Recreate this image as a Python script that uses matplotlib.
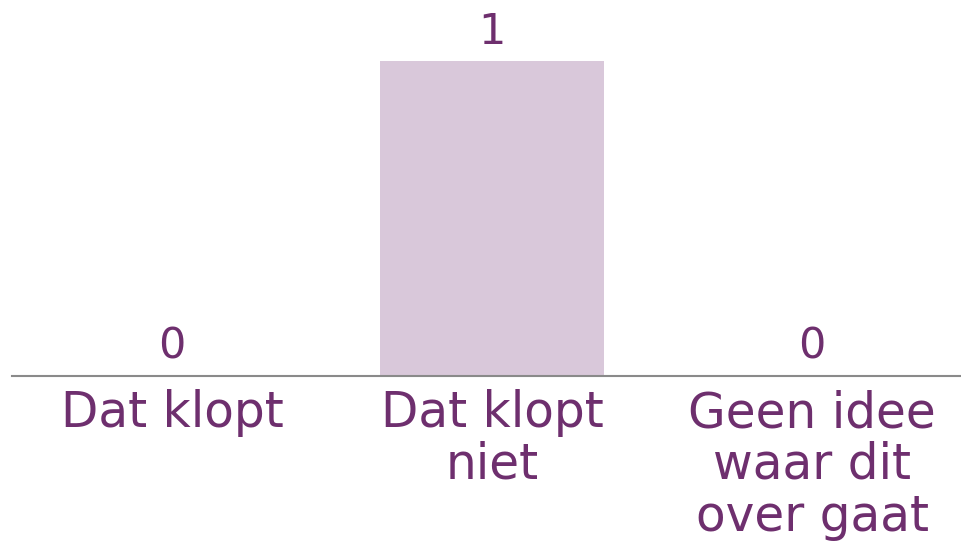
import matplotlib
matplotlib.use("Agg")
import matplotlib.pyplot as plt

categories = ["Dat klopt", "Dat klopt\nniet", "Geen idee\nwaar dit\nover gaat"]
values = [0, 1, 0]

BAR_COLOR = "#d9c8da"
TEXT_COLOR = "#6e2f6e"
W, H = 961, 558
DPI = 100

plt.rcParams["font.family"] = ["DejaVu Sans"]

fig = plt.figure(figsize=(W / DPI, H / DPI), dpi=DPI)
ax = fig.add_axes([12 / W, (H - 376) / H, 960 / W, 376 / H])
x = list(range(len(categories)))
ax.bar(x, values, width=0.7, color=BAR_COLOR)
ax.set_xlim(-0.5, len(categories) - 0.5)
ax.set_ylim(0, 376 / 315)

for xi, v in zip(x, values):
    ax.annotate(str(v), (xi, v), xytext=(0, 12.5), textcoords="offset points",
                ha="center", va="baseline", fontsize=31, color=TEXT_COLOR)

ax.set_xticks(x)
ax.set_xticklabels(categories, fontsize=35, color=TEXT_COLOR, linespacing=1.1)
ax.tick_params(axis="x", length=0, pad=9.5)
ax.set_yticks([])
for s in ["top", "right", "left"]:
    ax.spines[s].set_visible(False)
ax.spines["bottom"].set_color("#8a8a8a")
ax.spines["bottom"].set_linewidth(1.5)

fig.savefig("out.png", dpi=DPI)
